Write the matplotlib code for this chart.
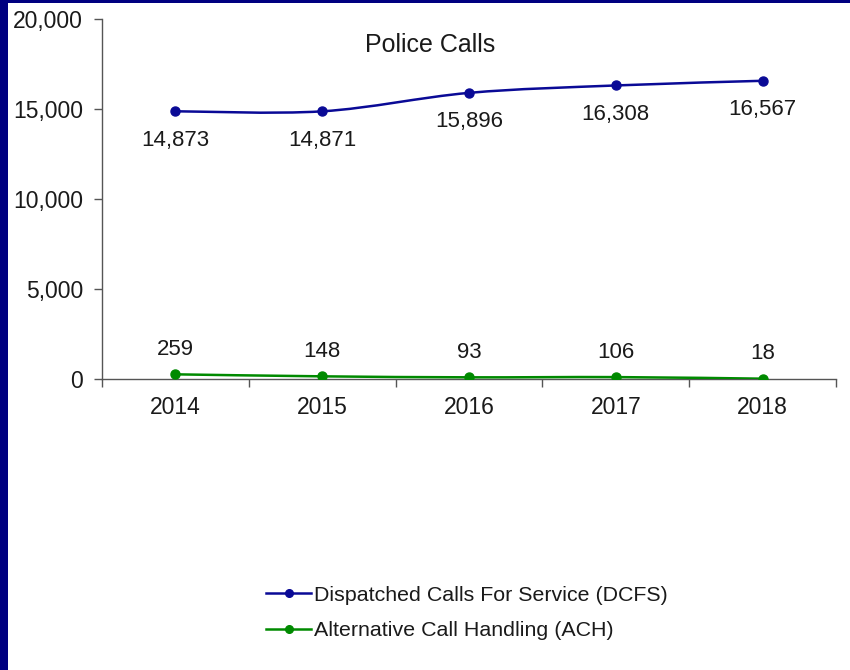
import matplotlib
matplotlib.use("Agg")
import matplotlib.pyplot as plt
import matplotlib.ticker as ticker
from matplotlib.path import Path
from matplotlib.patches import PathPatch, Rectangle
from matplotlib.lines import Line2D

years = ["2014", "2015", "2016", "2017", "2018"]
dcfs = [14873, 14871, 15896, 16308, 16567]
ach = [259, 148, 93, 106, 18]

plt.rcParams.update({
    "font.family": "sans-serif",
    "font.sans-serif": ["Liberation Sans", "Arial", "DejaVu Sans"],
    "font.size": 16,
})

BLUE = "#0A0A96"
GREEN = "#008A00"
NAVY = "#000080"
TXT = "#1a1a1a"


def smooth_path(xs, ys):
    """Catmull-Rom style bezier through the points (like Excel smoothed lines)."""
    pts = list(zip(xs, ys))
    verts = [pts[0]]
    codes = [Path.MOVETO]
    n = len(pts)
    for i in range(n - 1):
        p0 = pts[i - 1] if i > 0 else pts[i]
        p1 = pts[i]
        p2 = pts[i + 1]
        p3 = pts[i + 2] if i + 2 < n else pts[i + 1]
        c1 = (p1[0] + (p2[0] - p0[0]) / 6, p1[1] + (p2[1] - p0[1]) / 6)
        c2 = (p2[0] - (p3[0] - p1[0]) / 6, p2[1] - (p3[1] - p1[1]) / 6)
        verts += [c1, c2, p2]
        codes += [Path.CURVE4] * 3
    return Path(verts, codes)


fig = plt.figure(figsize=(8.5, 6.7), dpi=100)
ax = fig.add_axes([102 / 850, 1 - 379 / 670, 734 / 850, 360 / 670])

x = list(range(len(years)))

for vals, col in [(dcfs, BLUE), (ach, GREEN)]:
    ax.add_patch(PathPatch(smooth_path(x, vals), facecolor="none",
                           edgecolor=col, linewidth=1.8, zorder=3))
    ax.plot(x, vals, linestyle="none", marker="o", markersize=6.5,
            color=col, zorder=4)

for xi, v in zip(x, dcfs):
    ax.annotate(f"{v:,}", (xi, v), xytext=(0, -29), textcoords="offset pixels",
                ha="center", va="center", fontsize=16, color=TXT)
for xi, v in zip(x, ach):
    ax.annotate(f"{v:,}", (xi, v), xytext=(0, 25), textcoords="offset pixels",
                ha="center", va="center", fontsize=16, color=TXT)

ax.set_xlim(-0.5, len(years) - 0.5)
ax.set_ylim(0, 20000)
ax.yaxis.set_major_locator(ticker.MultipleLocator(5000))
ax.yaxis.set_major_formatter(ticker.FuncFormatter(lambda v, p: f"{v:,.0f}"))
ax.set_xticks(x)
ax.set_xticklabels(years)
ax.set_xticks([i - 0.5 for i in range(len(years) + 1)], minor=True)
ax.tick_params(axis="x", which="major", length=0, pad=12, labelsize=16.5,
               labelcolor=TXT)
ax.tick_params(axis="x", which="minor", length=6, width=1, color="#555555",
               direction="out")
ax.tick_params(axis="y", length=6, width=1, color="#555555", pad=7.5,
               labelsize=16.5, labelcolor=TXT)

for s in ["top", "right"]:
    ax.spines[s].set_visible(False)
for s in ["left", "bottom"]:
    ax.spines[s].set_color("#555555")
    ax.spines[s].set_linewidth(1)

ax.text(0.447, 0.928, "Police Calls", transform=ax.transAxes,
        ha="center", va="center", fontsize=18, color=TXT)

handles = [
    Line2D([], [], color=BLUE, marker="o", markersize=5.5, linewidth=1.8),
    Line2D([], [], color=GREEN, marker="o", markersize=5.5, linewidth=1.8),
]
fig.legend(handles, ["Dispatched Calls For Service (DCFS)",
                     "Alternative Call Handling (ACH)"],
           loc="center", bbox_to_anchor=(467 / 850, 1 - 613 / 670),
           frameon=False, fontsize=15.4, handlelength=2.1, handletextpad=0.15,
           labelspacing=0.78, alignment="left", labelcolor=TXT)

# navy frame on left and top edges
fig.patches.append(Rectangle((0, 0), 8 / 850, 1, transform=fig.transFigure,
                             facecolor=NAVY, edgecolor="none", zorder=10))
fig.patches.append(Rectangle((0, 1 - 3 / 670), 1, 3 / 670,
                             transform=fig.transFigure, facecolor=NAVY,
                             edgecolor="none", zorder=10))

fig.savefig("out.png", dpi=100, facecolor="white")
